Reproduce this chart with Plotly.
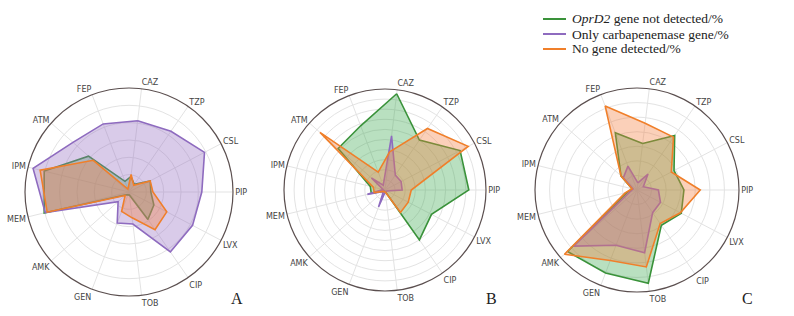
import plotly.graph_objects as go

categories = ["CAZ", "TZP", "CSL", "PIP", "LVX", "CIP", "TOB", "GEN", "AMK", "MEM", "IPM", "ATM", "FEP"]

series_names = ["<i>OprD2</i> gene not detected/%", "Only carbapenemase gene/%", "No gene detected/%"]

# Panel A
a_oprd2 = [9, 5.4, 13.8, 12.6, 16.2, 19.2, 1.8, 1.8, 2.4, 50.4, 50.4, 31.2, 6.6]
a_carb = [41.4, 42.6, 49.2, 42, 41.4, 42, 18.6, 19.2, 8.4, 49.8, 57, 43.2, 42]
a_none = [10.2, 4.8, 13.8, 13.8, 24.6, 26.4, 15, 12, 3, 48.6, 52.8, 27.6, 1.8]

# Panel B
b_oprd2 = [96, 60, 84, 83, 52, 60, 1.5, 1.5, 1.5, 14, 15, 62, 68]
b_carb = [54, 18, 18, 17, 2, 2, 2, 18, 2, 18, 2, 18, 5]
b_none = [38, 74, 93, 26, 26, 27, 2, 2, 2, 11, 12, 86, 19]

# Panel C
c_oprd2 = [32.2, 45.5, 28.7, 32.2, 34.3, 29.4, 64.4, 60.9, 63.7, 7, 3.5, 14.7, 42]
c_carb = [4.9, 13.3, 4.9, 14.7, 18.2, 18.9, 43.4, 40.6, 58.1, 4.9, 2.8, 12.6, 17.5]
c_none = [46.2, 44.1, 26.6, 43.4, 33.6, 28, 53.2, 51.8, 66.5, 8.4, 3.5, 14.7, 61.6]

panel_labels = ["A", "B", "C"]
radial_max = [60, 100, 70]

line_colors = ["#3a923a", "#8e6bbf", "#f07f2a"]
fill_colors = ["rgba(60,170,80,0.36)", "rgba(150,110,195,0.36)", "rgba(245,125,60,0.36)"]

panels = [
    [a_oprd2, a_carb, a_none],
    [b_oprd2, b_carb, b_none],
    [c_oprd2, c_carb, c_none],
]

W, H = 794, 316
centers = [(129, 192, 104), (385, 190, 101), (637, 190, 102)]

fig = go.Figure()

for p, data in enumerate(panels):
    sub = "polar" if p == 0 else f"polar{p+1}"
    for s, vals in enumerate(data):
        fig.add_trace(go.Scatterpolar(
            r=vals + [vals[0]],
            theta=categories + [categories[0]],
            mode="lines",
            fill="toself",
            fillcolor=fill_colors[s],
            line=dict(color=line_colors[s], width=1.6),
            subplot=sub,
            name=series_names[s],
            showlegend=False,
            hoverinfo="skip",
        ))

layout = dict(
    width=W, height=H,
    margin=dict(l=0, r=0, t=0, b=0),
    paper_bgcolor="white",
    plot_bgcolor="white",
    showlegend=False,
)

for p, (cx, cy, R) in enumerate(centers):
    key = "polar" if p == 0 else f"polar{p+1}"
    layout[key] = dict(
        domain=dict(x=[(cx - R) / W, (cx + R) / W], y=[1 - (cy + R) / H, 1 - (cy - R) / H]),
        bgcolor="white",
        radialaxis=dict(
            range=[0, radial_max[p]], dtick=10, showticklabels=False, ticks="",
            showline=False, gridcolor="#e3e3e3", gridwidth=1,
        ),
        angularaxis=dict(
            categoryorder="array", categoryarray=categories,
            rotation=360 / 13 * 3, direction="clockwise",
            tickfont=dict(family="DejaVu Sans", size=8, color="#444"),
            ticks="", showline=True, linecolor="#5b4f4f", linewidth=1.2,
            gridcolor="#e3e3e3", gridwidth=1,
        ),
    )

fig.update_layout(**layout)

# manual legend (line samples + serif text)
leg_x0, leg_x1, leg_tx = 543, 566, 570
leg_y = [19, 34, 49]
for s in range(3):
    fig.add_shape(
        type="line", xref="paper", yref="paper",
        x0=leg_x0 / W, x1=leg_x1 / W, y0=1 - leg_y[s] / H, y1=1 - leg_y[s] / H,
        line=dict(color=line_colors[s], width=2),
    )
    fig.add_annotation(
        x=leg_tx / W, y=1 - leg_y[s] / H, xref="paper", yref="paper",
        text=series_names[s], showarrow=False, xanchor="left", yanchor="middle",
        font=dict(family="Liberation Serif", size=13.5, color="#222"),
    )

label_pos = [(237, 298), (491, 298), (747, 298)]
for lab, (x, y) in zip(panel_labels, label_pos):
    fig.add_annotation(
        x=x / W, y=1 - y / H, xref="paper", yref="paper", text=lab, showarrow=False,
        font=dict(family="Liberation Serif", size=16, color="#222"),
        xanchor="center", yanchor="middle",
    )

fig.write_html("out.html", config={"displayModeBar": False},
               post_script="document.body.style.margin='0px';")
